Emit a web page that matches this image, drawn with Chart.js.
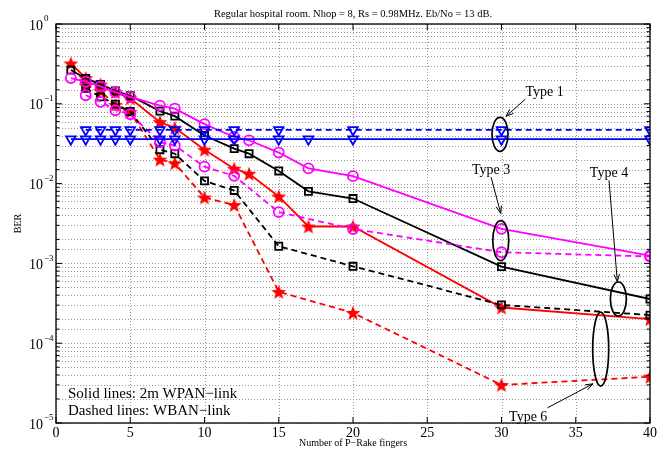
<!DOCTYPE html>
<html><head><meta charset="utf-8">
<script src="https://cdn.jsdelivr.net/npm/chart.js@4"></script>
<style>html,body{margin:0;padding:0;background:#fff;}</style>
</head><body>
<canvas id="c" width="672" height="453"></canvas>
<script>
// ---------- data ----------
const xSolid = [1,2,3,4,5,7,8,10,12,13,15,17,20,30,40];
const xBlueSolid = [1,2,3,4,5,7,8,10,12,15,17,20,30,40];
const xDashed = [2,3,4,5,7,8,10,12,15,20,30,40];

const type6Solid  = [0.32,0.21,0.175,0.14,0.117,0.059,0.050,0.0266,0.0154,0.0133,0.0069,0.0029,0.0029,0.00028,0.0002];
const type4Solid  = [0.265,0.208,0.175,0.145,0.126,0.081,0.070,0.040,0.0274,0.0237,0.0144,0.0080,0.0065,0.00091,0.000358];
const type3Solid  = [0.21,0.19,0.165,0.14,0.122,0.095,0.087,0.0557,0.0384,0.0349,0.0245,0.0155,0.0124,0.00271,0.00125];
const type1Solid  = [0.036,0.036,0.036,0.036,0.036,0.036,0.036,0.036,0.036,0.036,0.036,0.036,0.036,0.036];

const type6Dashed = [0.17,0.145,0.097,0.079,0.020,0.018,0.0067,0.0054,0.00044,0.00024,0.00003,0.000038];
const type4Dashed = [0.156,0.122,0.099,0.08,0.0266,0.0237,0.0108,0.0082,0.00164,0.00092,0.000302,0.000225];
const type3Dashed = [0.128,0.106,0.083,0.074,0.033,0.030,0.0163,0.0125,0.0044,0.0027,0.00138,0.00122];
const type1Dashed = [0.047,0.047,0.047,0.047,0.047,0.047,0.047,0.047,0.047,0.047,0.047,0.047];

const xTickLabels = ['0','5','10','15','20','25','30','35','40'];
const yExponents = ['0','\u22121','\u22122','\u22123','\u22124','\u22125'];

const titleText = 'Regular hospital room. Nhop = 8, Rs = 0.98MHz. Eb/No = 13 dB.';
const xTitle = 'Number of P\u2212Rake fingers';
const yTitle = 'BER';
const noteLines = ['Solid lines: 2m WPAN\u2212link','Dashed lines: WBAN\u2212link'];

const annLabels = ['Type 1','Type 3','Type 4','Type 6'];
const annEllipseX = [29.9, 29.95, 37.87, 36.68];
const annEllipseY = [0.0415, 0.00193, 0.000358, 0.0000843];
const annEllipseRy = [17, 20, 17, 37];
const annTextX = [32.9, 29.3, 37.24, 31.8];
const annTextY = [0.14, 0.0147, 0.0134, 0.0000119];
const annArrowFromX = [31.6, 29.3, 37.24, 33.1];
const annArrowFromY = [0.114, 0.012, 0.011, 0.0000155];
const annArrowToX = [30.3, 29.95, 37.8, 36.16];
const annArrowToY = [0.0698, 0.00423, 0.00059, 0.000031];

// ---------- helpers ----------
function pts(xs, ys){ return xs.map((x,i)=>({x:x,y:ys[i]})); }
function starCanvas(size,color){
  const c=document.createElement('canvas');c.width=c.height=size;
  const g=c.getContext('2d');const cx=size/2,cy=size/2+0.7,R=size/2-0.2,r=R*0.42;
  g.beginPath();
  for(let i=0;i<10;i++){const a=-Math.PI/2+i*Math.PI/5;const rr=i%2?r:R;g.lineTo(cx+rr*Math.cos(a),cy+rr*Math.sin(a));}
  g.closePath();g.fillStyle=color;g.fill();return c;
}
const star = starCanvas(16,'#ff0000');
const SERIF = '"Liberation Serif","DejaVu Serif",serif';
const LW = 1.8;
const DASH = [6,4];

function ds(label, xs, ys, color, style, dashed, extra){
  return Object.assign({
    label, data: pts(xs, ys), borderColor: color, backgroundColor: 'rgba(0,0,0,0)',
    borderWidth: LW, borderDash: dashed ? DASH : [], pointStyle: style,
    pointRadius: 5, pointBorderColor: color, pointBackgroundColor: 'rgba(0,0,0,0)',
    pointBorderWidth: 1.8, tension: 0, fill: false
  }, extra||{});
}

const datasets = [
  ds('Type 1 solid', xBlueSolid, type1Solid, '#0000ff', 'triangle', false, {pointRotation:180, pointRadius:5.5}),
  ds('Type 1 dashed', xDashed, type1Dashed, '#0000ff', 'triangle', true, {pointRotation:180, pointRadius:5.5}),
  ds('Type 3 solid', xSolid, type3Solid, '#ff00ff', 'circle', false),
  ds('Type 3 dashed', xDashed, type3Dashed, '#ff00ff', 'circle', true),
  ds('Type 4 solid', xSolid, type4Solid, '#000000', 'rect', false),
  ds('Type 4 dashed', xDashed, type4Dashed, '#000000', 'rect', true),
  ds('Type 6 solid', xSolid, type6Solid, '#ff0000', star, false),
  ds('Type 6 dashed', xDashed, type6Dashed, '#ff0000', star, true)
];

const gridPlugin = {
  id: 'dotgrid',
  beforeDatasetsDraw(chart){
    const ctx = chart.ctx, a = chart.chartArea, xs = chart.scales.x, ys = chart.scales.y;
    ctx.save();
    ctx.strokeStyle = '#9a9a9a'; ctx.lineWidth = 1; ctx.setLineDash([1,2]);
    ctx.beginPath();
    ys.ticks.forEach(t => {
      const y = Math.round(ys.getPixelForValue(t.value)) + 0.5;
      ctx.moveTo(a.left, y); ctx.lineTo(a.right, y);
    });
    xs.ticks.forEach(t => {
      const x = Math.round(xs.getPixelForValue(t.value)) + 0.5;
      ctx.moveTo(x, a.top); ctx.lineTo(x, a.bottom);
    });
    ctx.stroke();
    ctx.restore();
  }
};

const overlay = {
  id: 'overlay',
  afterDatasetsDraw(chart){
    const ctx = chart.ctx, a = chart.chartArea, xs = chart.scales.x, ys = chart.scales.y;
    ctx.save();
    ctx.strokeStyle = '#000'; ctx.lineWidth = 1.3; ctx.setLineDash([]);
    ctx.strokeRect(a.left, a.top, a.right - a.left, a.bottom - a.top);
    ctx.lineWidth = 1;
    ctx.beginPath();
    ys.ticks.forEach(t => {
      const y = ys.getPixelForValue(t.value);
      const len = t.major ? 6 : 3.5;
      ctx.moveTo(a.left, y); ctx.lineTo(a.left + len, y);
      ctx.moveTo(a.right, y); ctx.lineTo(a.right - len, y);
    });
    xs.ticks.forEach(t => {
      const x = xs.getPixelForValue(t.value);
      ctx.moveTo(x, a.bottom); ctx.lineTo(x, a.bottom - 6);
      ctx.moveTo(x, a.top); ctx.lineTo(x, a.top + 6);
    });
    ctx.stroke();
    ctx.fillStyle = '#000';
    ctx.font = '14px ' + SERIF; ctx.textAlign = 'center'; ctx.textBaseline = 'middle';
    xs.ticks.forEach((t,i) => {
      ctx.fillText(xTickLabels[i] ?? String(t.value), xs.getPixelForValue(t.value), a.bottom + 10);
    });
    yExponents.forEach((e,i) => {
      const y = ys.getPixelForValue(Math.pow(10, -i));
      ctx.font = '14px ' + SERIF; ctx.textAlign = 'right'; ctx.textBaseline = 'middle';
      ctx.fillText('10', a.left - 13, y + 2);
      ctx.font = '9px ' + SERIF; ctx.textAlign = 'left';
      ctx.fillText(e, a.left - 12, y - 5);
    });
    ctx.font = '10.5px ' + SERIF; ctx.textAlign = 'center'; ctx.textBaseline = 'middle';
    ctx.fillText(titleText, (a.left + a.right)/2, 14);
    ctx.font = '10px ' + SERIF;
    ctx.fillText(xTitle, (a.left + a.right)/2, a.bottom + 20);
    ctx.save(); ctx.translate(18, (a.top + a.bottom)/2); ctx.rotate(-Math.PI/2);
    ctx.fillText(yTitle, 0, 0); ctx.restore();
    ctx.font = '15px ' + SERIF; ctx.textAlign = 'left'; ctx.textBaseline = 'middle';
    ctx.fillText(noteLines[0], a.left + 12, a.bottom - 29);
    ctx.fillText(noteLines[1], a.left + 12, a.bottom - 12);
    annLabels.forEach((lab,i) => {
      const ex = xs.getPixelForValue(annEllipseX[i]), ey = ys.getPixelForValue(annEllipseY[i]);
      ctx.beginPath(); ctx.lineWidth = 1.7; ctx.strokeStyle = '#000';
      ctx.ellipse(ex, ey, 8, annEllipseRy[i], 0, 0, Math.PI*2); ctx.stroke();
      const tx = xs.getPixelForValue(annTextX[i]), ty = ys.getPixelForValue(annTextY[i]);
      ctx.font = '14px ' + SERIF; ctx.textAlign = 'center'; ctx.textBaseline = 'middle';
      ctx.fillText(lab, tx, ty);
      const x1 = xs.getPixelForValue(annArrowFromX[i]), y1 = ys.getPixelForValue(annArrowFromY[i]);
      const x2 = xs.getPixelForValue(annArrowToX[i]), y2 = ys.getPixelForValue(annArrowToY[i]);
      ctx.lineWidth = 1; ctx.beginPath(); ctx.moveTo(x1,y1); ctx.lineTo(x2,y2); ctx.stroke();
      const ang = Math.atan2(y2-y1, x2-x1), h = 8;
      ctx.beginPath();
      ctx.moveTo(x2 - h*Math.cos(ang - 0.35), y2 - h*Math.sin(ang - 0.35));
      ctx.lineTo(x2, y2);
      ctx.lineTo(x2 - h*Math.cos(ang + 0.35), y2 - h*Math.sin(ang + 0.35));
      ctx.stroke();
    });
    ctx.restore();
  }
};

new Chart(document.getElementById('c'), {
  type: 'line',
  data: { datasets },
  options: {
    responsive: false, animation: false, devicePixelRatio: 1,
    layout: { padding: { left: 56, top: 24, right: 22, bottom: 30 } },
    plugins: { legend: { display: false }, tooltip: { enabled: false } },
    scales: {
      x: { type: 'linear', min: 0, max: 40,
           ticks: { display: false, stepSize: 5 },
           grid: { display: false, drawTicks: false },
           border: { display: false }, title: { display: false } },
      y: { type: 'logarithmic', min: 1e-5, max: 1,
           ticks: { display: false },
           grid: { display: false, drawTicks: false },
           border: { display: false }, title: { display: false } }
    }
  },
  plugins: [gridPlugin, overlay]
});
</script>
</body></html>
